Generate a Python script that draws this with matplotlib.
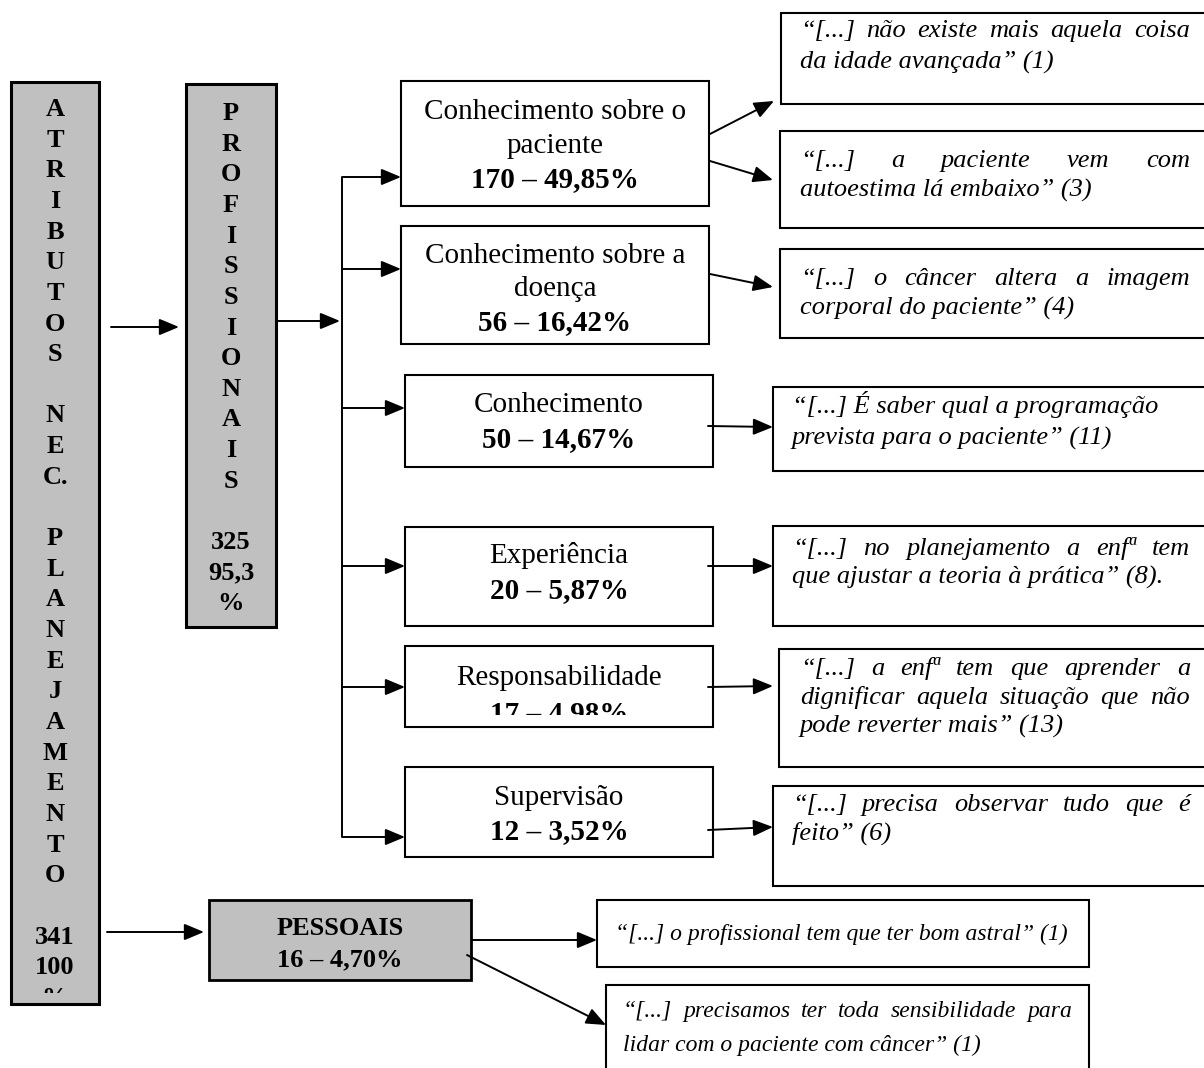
import matplotlib
matplotlib.use("Agg")
import matplotlib.pyplot as plt
from matplotlib.patches import Rectangle, FancyArrowPatch

# ---- values ----
total_label = ["ATRIBUTOS", "NEC.", "PLANEJAMENTO"]
total_n = "341"
total_pct = "100%"

prof_label = "PROFISSIONAIS"
prof_n = "325"
prof_pct = "95,3%"

pess_label = "PESSOAIS"
pess_n = "16"
pess_pct = "4,70%"

cat_names = [["Conhecimento sobre o", "paciente"],
             ["Conhecimento sobre a", "doença"],
             ["Conhecimento"],
             ["Experiência"],
             ["Responsabilidade"],
             ["Supervisão"]]
cat_n = ["170", "56", "50", "20", "17", "12"]
cat_pct = ["49,85%", "16,42%", "14,67%", "5,87%", "4.98%", "3,52%"]

quotes_prof = [["“[...] não existe mais aquela coisa", "da idade avançada” (1)"],
               ["“[...] a paciente vem com", "autoestima lá embaixo” (3)"],
               ["“[...] o câncer altera a imagem", "corporal do paciente” (4)"],
               ["“[...] É saber qual a programação", "prevista para o paciente” (11)"],
               ["“[...] no planejamento a enfª tem", "que ajustar a teoria à prática” (8)."],
               ["“[...] a enfª tem que aprender a", "dignificar aquela situação que não",
                "pode reverter mais” (13)"],
               ["“[...] precisa observar tudo que é", "feito” (6)"]]
quotes_pess = [["“[...] o profissional tem que ter bom astral” (1)"],
               ["“[...] precisamos ter toda sensibilidade para",
                "lidar com o paciente com câncer” (1)"]]

plt.rcParams['font.family'] = ['Liberation Serif', 'DejaVu Serif']

fig = plt.figure(figsize=(12.04, 10.68), dpi=100)
ax = fig.add_axes([0, 0, 1, 1])
ax.set_xlim(0, 1204)
ax.set_ylim(1068, 0)
ax.axis('off')
renderer = fig.canvas.get_renderer()

GRAY = '#c0c0c0'
LW = 1.5


def box(x0, y0, x1, y1, fc='white', lw=LW, pad=6):
    ax.add_patch(Rectangle((x0, y0), x1 - x0, y1 - y0, fc=fc, ec='black', lw=lw))
    # inner area used to clip overflowing text, like the text boxes in the original
    return Rectangle((x0, y0 + pad), x1 - x0, y1 - y0 - 2 * pad, transform=ax.transData)


def arrow(x0, y0, x1, y1):
    ax.add_patch(FancyArrowPatch((x0, y0), (x1, y1),
                                 arrowstyle='-|>,head_length=1.2,head_width=0.5',
                                 mutation_scale=10, lw=1.4, color='black',
                                 shrinkA=0, shrinkB=0))


def line(xs, ys):
    ax.plot(xs, ys, color='black', lw=1.4, solid_capstyle='butt')


def vertical(words):
    # one letter per line, punctuation sticks to the previous letter
    out = []
    for k, w in enumerate(words):
        if k:
            out.append("")
        for ch in w:
            if ch == '.' and out:
                out[-1] += ch
            else:
                out.append(ch)
    return out


def stack(x, y0, step, rows, clip, size=19):
    for i, r in enumerate(rows):
        t = ax.text(x, y0 + i * step, r, ha='center', va='baseline',
                    fontsize=size, fontweight='bold', clip_on=True)
        t.set_clip_path(clip)


def width_of(s, **kw):
    t = ax.text(0, 0, s, **kw)
    w = t.get_window_extent(renderer).width
    t.remove()
    return w


def quote(rect, lines, y0, step, left, right, justify=True, size=19):
    box(*rect)
    kw = dict(fontsize=size, style='italic')
    for i, ln in enumerate(lines):
        y = y0 + i * step
        if justify and i < len(lines) - 1:
            words = ln.split(' ')
            ws = [width_of(w, **kw) for w in words]
            gap = (right - left - sum(ws)) / (len(words) - 1)
            x = left
            for w, wd in zip(words, ws):
                ax.text(x, y, w, ha='left', va='baseline', **kw)
                x += wd + gap
        else:
            ax.text(left, y, ln, ha='left', va='baseline', **kw)


STEP = 30.65

# ---- left column: total ----
clip = box(11, 82, 99, 1004, fc=GRAY, lw=2.2, pad=11)
stack(55, 116, STEP, vertical(total_label) + ["", total_n, total_pct[:-1], "%"], clip)

# ---- professional attributes ----
clip = box(186, 84, 276, 627, fc=GRAY, lw=2.2)
stack(231, 120, STEP, vertical([prof_label]) + ["", prof_n, prof_pct[:-1], "%"], clip)

arrow(111, 327, 179, 327)
arrow(276, 321, 340, 321)
line([342, 342], [177, 837])

cat_rects = [(401, 81, 709, 206), (401, 226, 709, 344), (405, 375, 713, 467),
             (405, 527, 713, 626), (405, 646, 713, 727), (405, 767, 713, 857)]
cat_base = [119, 263, 412, 563, 685, 805]
cat_step = [34, 33.5, 35, 35, 37, 34]
cat_pad = [4, 4, 4, 4, 12, 4]
branch_y = [177, 269, 408, 566, 687, 837]

for rect, names, n, pct, yb, st, pd, by in zip(cat_rects, cat_names, cat_n, cat_pct,
                                               cat_base, cat_step, cat_pad, branch_y):
    clip = box(*rect, pad=pd)
    cx = (rect[0] + rect[2]) / 2
    rows = [(nm, 'normal') for nm in names] + [(f"{n} – {pct}", 'bold')]
    for i, (txt, wt) in enumerate(rows):
        t = ax.text(cx, yb + i * st, txt, ha='center', va='baseline',
                    fontsize=21, fontweight=wt, clip_on=True)
        t.set_clip_path(clip)
    arrow(342, by, rect[0], by)

# ---- quotes for the professional attributes ----
q_rects = [(781, 13, 1230, 104), (780, 131, 1230, 228), (780, 249, 1230, 338),
           (773, 387, 1230, 471), (773, 526, 1230, 626), (779, 649, 1230, 767),
           (773, 786, 1230, 886)]
q_base = [37, 167, 285, 413, 555, 675, 811]
q_step = [32, 30, 30, 32, 29, 29, 29]
q_left = [800, 800, 800, 792, 792, 800, 792]
q_just = [True, True, True, False, True, True, True]
for rect, ql, yb, st, xl, jf in zip(q_rects, quotes_prof, q_base, q_step, q_left, q_just):
    quote(rect, ql, yb, st, xl, 1190, jf)

# arrows from categories to quotes
arrow(710, 134, 774, 101)
arrow(710, 161, 773, 180)
arrow(710, 274, 773, 287)
arrow(708, 426, 773, 427)
arrow(708, 566, 773, 566)
arrow(708, 687, 773, 686)
arrow(708, 830, 773, 827)

# ---- personal attributes ----
arrow(107, 932, 204, 932)
box(209, 900, 471, 980, fc=GRAY, lw=2.0)
for i, txt in enumerate([pess_label, f"{pess_n} – {pess_pct}"]):
    ax.text(340, 935 + i * 31, txt, ha='center', va='baseline', fontsize=19,
            fontweight='bold')

quote((597, 900, 1089, 967), quotes_pess[0], 940, 31, 615, 1072, False, size=17)
quote((606, 985, 1089, 1090), quotes_pess[1], 1017, 34, 623, 1072, True, size=17)
line([471, 540], [940, 940])
arrow(540, 940, 597, 940)
arrow(467, 955, 606, 1025)

fig.savefig("out.png", dpi=100)
